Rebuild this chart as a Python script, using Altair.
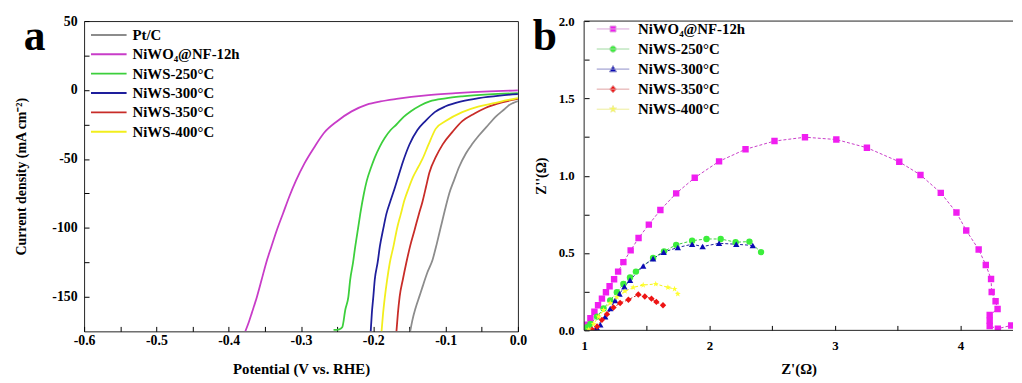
import altair as alt
import pandas as pd

FONT = "Liberation Serif"

# ---------------- panel a : LSV curves ----------------
a_series = ["Pt/C", "NiWO₄@NF-12h", "NiWS-250°C", "NiWS-300°C", "NiWS-350°C", "NiWS-400°C"]
a_colors = ["#8c8c8c", "#c83cc8", "#3ccf3c", "#1e1e9c", "#c82c28", "#f2ee1c"]

ptc_v = [-0.149, -0.146, -0.1415, -0.1365, -0.1315, -0.125, -0.118, -0.112, -0.1065, -0.100, -0.095,
         -0.088, -0.0815, -0.072, -0.063, -0.054, -0.0405, -0.031, -0.0177, -0.0135, -0.007, 0.0]
ptc_j = [-175, -167, -158, -150, -142, -132, -123, -111, -99, -85, -75,
         -65, -56, -46, -39, -33, -25, -19.5, -13.5, -11.5, -9.5, -8.0]

niwo_v = [-0.377, -0.372, -0.368, -0.361, -0.3545, -0.348, -0.341, -0.333, -0.325, -0.316, -0.307, -0.295,
          -0.282, -0.268, -0.250, -0.230, -0.209, -0.190, -0.168, -0.127, -0.086, -0.040, 0.0]
niwo_j = [-175, -168, -161.6, -150, -137.6, -125, -113.6, -101, -89.7, -77, -65.7, -53,
          -41.8, -31, -22.6, -15.5, -10.6, -8.3, -6.5, -3.9, -2.3, -1.0, -0.3]

g250_v = [-0.255, -0.247, -0.243, -0.2386, -0.2345, -0.232, -0.228, -0.225, -0.221, -0.218, -0.213, -0.209,
          -0.203, -0.198, -0.191, -0.184, -0.176, -0.168, -0.158, -0.148, -0.135, -0.122, -0.100, -0.077,
          -0.040, 0.0]
g250_j = [-174, -173.5, -172, -159, -150, -137.6, -125, -113.6, -100, -89.7, -75, -65.7,
          -56, -49, -41, -34.6, -29, -25, -19.5, -15.4, -11.2, -8.2, -6.0, -4.6,
          -3.2, -2.3]

b300_v = [-0.2036, -0.202, -0.200, -0.198, -0.194, -0.191, -0.186, -0.182, -0.176, -0.170, -0.165,
          -0.159, -0.150, -0.139, -0.128, -0.115, -0.100, -0.078, -0.054, -0.025, 0.0]
b300_j = [-175, -161.6, -150, -137.6, -125, -113.6, -100, -90, -80, -70.5, -62,
          -52, -39.5, -29, -22.5, -16, -11.8, -8.2, -5.8, -4.0, -3.0]

r350_v = [-0.168, -0.166, -0.1636, -0.159, -0.1545, -0.149, -0.143, -0.137, -0.132, -0.127, -0.1225,
          -0.113, -0.104, -0.090, -0.077, -0.060, -0.045, -0.022, 0.0]
r350_j = [-175, -162, -150, -137, -125.6, -113, -101.7, -90, -81, -70, -60,
          -48, -39.4, -30, -22.6, -17, -13, -9, -6.4]

y400_v = [-0.1886, -0.1865, -0.184, -0.181, -0.1773, -0.172, -0.167, -0.162, -0.157, -0.151, -0.145,
          -0.138, -0.132, -0.124, -0.1135, -0.100, -0.077, -0.055, -0.031, -0.015, 0.0]
y400_j = [-175, -162, -150, -138, -125.6, -113, -100, -90, -80, -71, -63,
          -56, -50, -40, -28, -22.5, -16, -12, -9.4, -7.4, -5.8]

a_v = [ptc_v, niwo_v, g250_v, b300_v, r350_v, y400_v]
a_j = [ptc_j, niwo_j, g250_j, b300_j, r350_j, y400_j]

a_x_domain = [-0.6, 0.0]
a_y_domain = [-175, 50]
a_x_ticks = [-0.6, -0.55, -0.5, -0.45, -0.4, -0.35, -0.3, -0.25, -0.2, -0.15, -0.1, -0.05, 0.0]
a_y_ticks = [-150, -125, -100, -75, -50, -25, 0, 25, 50]

# ---------------- panel b : Nyquist plots ----------------
b_series = ["NiWO₄@NF-12h", "NiWS-250°C", "NiWS-300°C", "NiWS-350°C", "NiWS-400°C"]
b_colors = ["#f01ef0", "#3cee3c", "#0a0ab4", "#ee1414", "#ffff30"]
b_line_colors = ["#d9a6d9", "#9ed99e", "#8c8cc8", "#e0a0a0", "#eeee99"]

m_x = [1.005, 1.018, 1.050, 1.082, 1.111, 1.142, 1.174, 1.203, 1.239, 1.271, 1.313, 1.371, 1.434,
       1.516, 1.608, 1.734, 1.882, 2.076, 2.287, 2.518, 2.761, 3.011, 3.255, 3.513, 3.682, 3.844,
       3.969, 4.047, 4.146, 4.203, 4.245, 4.250, 4.281, 4.297, 4.234, 4.234, 4.234, 4.299, 4.406]
m_y = [0.005, 0.036, 0.078, 0.120, 0.162, 0.205, 0.247, 0.285, 0.331, 0.380, 0.441, 0.517, 0.597,
       0.684, 0.778, 0.886, 0.987, 1.093, 1.171, 1.224, 1.249, 1.234, 1.181, 1.090, 1.005, 0.889,
       0.762, 0.646, 0.523, 0.423, 0.332, 0.248, 0.188, 0.138, 0.099, 0.063, 0.028, 0.011, 0.032]

g_x = [1.010, 1.025, 1.050, 1.103, 1.155, 1.208, 1.261, 1.313, 1.366, 1.413, 1.550, 1.637, 1.734,
       1.861, 1.976, 2.089, 2.208, 2.318, 2.411]
g_y = [0.010, 0.020, 0.042, 0.089, 0.141, 0.194, 0.247, 0.300, 0.342, 0.380, 0.468, 0.511, 0.553,
       0.580, 0.591, 0.591, 0.570, 0.574, 0.506]

bl_x = [1.090, 1.103, 1.129, 1.168, 1.208, 1.247, 1.282, 1.321, 1.366, 1.471, 1.550, 1.634, 1.747,
        1.861, 1.945, 2.076, 2.213, 2.345]
bl_y = [0.005, 0.015, 0.036, 0.089, 0.141, 0.194, 0.236, 0.283, 0.325, 0.416, 0.464, 0.506, 0.536,
        0.557, 0.542, 0.563, 0.557, 0.549]

r_x = [1.063, 1.103, 1.142, 1.182, 1.234, 1.287, 1.353, 1.432, 1.484, 1.537, 1.576, 1.629]
r_y = [0.005, 0.025, 0.068, 0.105, 0.148, 0.177, 0.198, 0.232, 0.219, 0.205, 0.184, 0.162]

y_x = [1.037, 1.076, 1.116, 1.155, 1.208, 1.261, 1.326, 1.392, 1.471, 1.571, 1.668, 1.721, 1.747]
y_y = [0.005, 0.042, 0.089, 0.131, 0.177, 0.215, 0.253, 0.278, 0.293, 0.300, 0.278, 0.268, 0.236]

b_xs = [m_x, g_x, bl_x, r_x, y_x]
b_ys = [m_y, g_y, bl_y, r_y, y_y]

b_x_domain = [1.0, 4.42]
b_y_domain = [0.0, 2.0]
b_x_ticks = [1, 1.5, 2, 2.5, 3, 3.5, 4]
b_y_ticks = [0, 0.25, 0.5, 0.75, 1.0, 1.25, 1.5, 1.75, 2.0]

STAR = ("M0,-1L0.235,-0.324L0.951,-0.309L0.38,0.124L0.588,0.809L0,0.4L-0.588,0.809"
        "L-0.38,0.124L-0.951,-0.309L-0.235,-0.324Z")
b_shapes = ["square", "circle", "triangle-up", "diamond", STAR]
LN = "M-4.4,0H4.4"
b_leg_shapes = [
    LN + "M-0.8,-0.8H0.8V0.8H-0.8Z",
    LN + "M0.85,0A0.85,0.85,0,1,1,-0.85,0A0.85,0.85,0,1,1,0.85,0Z",
    LN + "M0,-0.95L0.95,0.75H-0.95Z",
    LN + "M0,-1L0.9,0L0,1L-0.9,0Z",
    LN + STAR,
]

# ---------------- tables ----------------
rows = []
for s, vs, js in zip(a_series, a_v, a_j):
    for i, (v, j) in enumerate(zip(vs, js)):
        rows.append({"series": s, "V": v, "J": j, "idx": i})
df_a = pd.DataFrame(rows)

rows = []
for s, xs, ys in zip(b_series, b_xs, b_ys):
    for i, (x, y) in enumerate(zip(xs, ys)):
        rows.append({"series": s, "Zr": x, "Zi": y, "idx": i})
df_b = pd.DataFrame(rows)

df_border = pd.DataFrame({
    "Zr": [b_x_domain[0], b_x_domain[0], b_x_domain[0]],
    "Zr2": [b_x_domain[1], b_x_domain[0], b_x_domain[1]],
    "Zi": [b_y_domain[1], b_y_domain[0], b_y_domain[0]],
    "Zi2": [b_y_domain[1], b_y_domain[1], b_y_domain[0]],
})

common_axis = dict(
    offset=-5, tickSize=5, domain=False, grid=False, tickColor="black", tickWidth=1,
    labelFont=FONT, labelFontWeight="bold", labelColor="black", labelOverlap=False,
    labelFlush=False, titleFont=FONT, titleFontWeight="bold", titleColor="black",
)

ax_a_x = alt.Axis(values=a_x_ticks, title="Potential (V vs. RHE)", labelFontSize=14, labelPadding=2,
                  titleFontSize=15, titlePadding=15,
                  labelExpr="round(datum.value*100) % 10 == 0 ? replace(format(datum.value, '.1f'), '\u2212', '-') : ''",
                  **common_axis)
ax_a_y = alt.Axis(values=a_y_ticks, title="Current density (mA cm⁻²)", labelFontSize=14, labelPadding=7,
                  titleFontSize=14, titlePadding=24,
                  labelExpr="datum.value % 50 == 0 ? toString(datum.value) : ''", **common_axis)
ax_b_x = alt.Axis(values=b_x_ticks, title="Z'(Ω)", labelFontSize=13, labelPadding=9,
                  titleFontSize=15, titlePadding=10,
                  labelExpr="datum.value % 1 == 0 ? toString(datum.value) : ''", **common_axis)
ax_b_y = alt.Axis(values=b_y_ticks, title="Z''(Ω)", labelFontSize=13, labelPadding=10,
                  titleFontSize=14, titlePadding=10,
                  labelExpr="round(datum.value*100) % 50 == 0 ? format(datum.value, '.1f') : ''",
                  **common_axis)

# ---------------- panel a ----------------
leg_a = alt.Legend(orient="none", legendX=17.5, legendY=6.5, title=None, padding=0,
                   symbolType="M-3,0H3", symbolSize=144, symbolStrokeWidth=2,
                   labelFont=FONT, labelFontSize=15, labelFontWeight="bold", labelColor="black",
                   labelOffset=16.5, rowPadding=3.6)

xa = alt.X("V:Q", scale=alt.Scale(domain=a_x_domain, nice=False, zero=False), axis=ax_a_x)
ya = alt.Y("J:Q", scale=alt.Scale(domain=a_y_domain, nice=False, zero=False), axis=ax_a_y)

lines_a = alt.Chart(df_a).mark_line(strokeWidth=1.8, clip=True, interpolate="monotone").encode(
    x=xa, y=ya,
    color=alt.Color("series:N", scale=alt.Scale(domain=a_series, range=a_colors), legend=leg_a),
    order="idx:Q",
)
letter_a = alt.Chart(pd.DataFrame({"t": ["a"]})).mark_text(
    font=FONT, fontSize=44, fontWeight="bold", align="left", baseline="alphabetic", color="black"
).encode(x=alt.value(-61), y=alt.value(29.5), text="t:N")

panel_a = alt.layer(lines_a, letter_a).properties(
    width=439, height=314, view=alt.ViewBackground(stroke="#222", strokeWidth=1)
)

# ---------------- panel b ----------------
xb = alt.X("Zr:Q", scale=alt.Scale(domain=b_x_domain, nice=False, zero=False), axis=ax_b_x)
yb = alt.Y("Zi:Q", scale=alt.Scale(domain=b_y_domain, nice=False, zero=False), axis=ax_b_y)

lines_b = alt.Chart(df_b).mark_line(strokeWidth=1, strokeDash=[3, 2], clip=True).encode(
    x=xb, y=yb,
    color=alt.Color("series:N", scale=alt.Scale(domain=b_series, range=b_line_colors), legend=None),
    order="idx:Q",
)
pts_b = alt.Chart(df_b).mark_point(filled=True, size=42, opacity=1, strokeWidth=0, clip=True).encode(
    x=xb, y=yb,
    fill=alt.Fill("series:N", scale=alt.Scale(domain=b_series, range=b_colors), legend=None),
    shape=alt.Shape("series:N", scale=alt.Scale(domain=b_series, range=b_shapes), legend=None),
)
leg_b = alt.Legend(orient="none", legendX=21.75, legendY=0.5, title=None, padding=0,
                   symbolSize=56, symbolStrokeWidth=1, symbolOpacity=1,
                   labelFont=FONT, labelFontSize=15, labelFontWeight="bold", labelColor="black",
                   labelOffset=17.75, rowPadding=4.3)
legend_b = alt.Chart(df_b).transform_filter("false").mark_point(filled=True, opacity=1, strokeWidth=1).encode(
    x=xb, y=yb,
    fill=alt.Fill("series:N", scale=alt.Scale(domain=b_series, range=b_colors), legend=leg_b),
    stroke=alt.Stroke("series:N", scale=alt.Scale(domain=b_series, range=b_line_colors), legend=leg_b),
    shape=alt.Shape("series:N", scale=alt.Scale(domain=b_series, range=b_leg_shapes), legend=leg_b),
)
border_b = alt.Chart(df_border).mark_rule(color="#222", strokeWidth=1).encode(
    x=xb, x2="Zr2:Q", y=yb, y2="Zi2:Q"
)
letter_b = alt.Chart(pd.DataFrame({"t": ["b"]})).mark_text(
    font=FONT, fontSize=44, fontWeight="bold", align="left", baseline="alphabetic", color="black"
).encode(x=alt.value(-52), y=alt.value(29.5), text="t:N")

panel_b = alt.layer(lines_b, pts_b, legend_b, border_b, letter_b).resolve_scale(
    fill="independent", shape="independent", stroke="independent"
).properties(width=434, height=313, view=alt.ViewBackground(stroke=None))

chart = alt.hconcat(panel_a, panel_b, spacing=67, bounds="flush").properties(
    padding={"left": 5, "top": 3, "right": 0, "bottom": 0}
).configure(background="white")

chart.save("out.html", embed_options={"renderer": "svg", "actions": False})
